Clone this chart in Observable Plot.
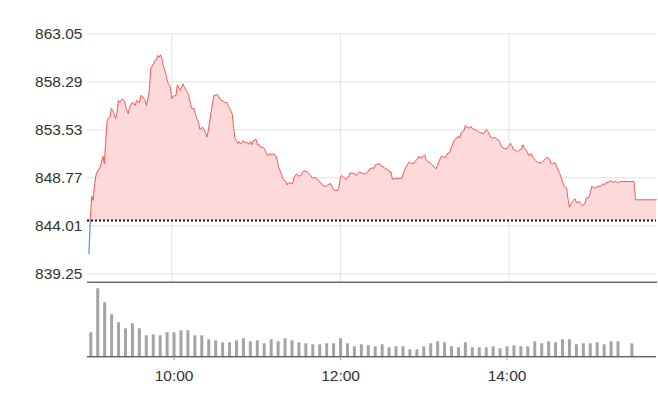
<!DOCTYPE html>
<html><head><meta charset="utf-8">
<script src="https://cdn.jsdelivr.net/npm/d3@7"></script>
<script src="https://cdn.jsdelivr.net/npm/@observablehq/plot@0.6"></script>
<style>
html,body{margin:0;padding:0;background:#fff;}
#chart{position:relative;width:658px;height:408px;font-family:"Liberation Sans",Arial,sans-serif;color:#333;}
#chart svg{display:block;}
</style></head><body><div id="chart"></div>
<script>
// ---- data ----
const sessionStart = "09:00";
const sessionEnd = "15:45";
const prevClose = 844.54;
const yTicks = [839.25, 844.01, 848.77, 853.53, 858.29, 863.05];
const timeTicks = ["10:00", "12:00", "14:00"];

// minutes after 09:00
const priceMinutes = [1,2,3,4,5,6,7,9,10,11,12,13,14,15,16,17,18,20,21,22,23,25,26,28,29,30,31,32,34,35,37,38,39,41,42,43,44,45,47,48,49,50,51,52,53,54,56,57,59,
60,61,63,64,66,68,69,71,72,74,76,77,79,80,82,84,85,86,88,90,92,93,95,96,98,99,101,103,104,105,107,108,109,111,112,113,115,116,117,118,
120,121,122,123,125,126,128,129,131,132,134,135,136,138,139,141,142,143,145,146,147,149,150,152,153,154,156,157,159,160,161,163,164,166,167,169,170,171,173,174,175,176,178,179,
180,181,183,184,186,187,189,190,191,193,194,196,198,199,201,202,204,205,207,208,209,211,212,214,215,216,217,218,219,221,222,224,225,226,227,229,230,232,233,235,236,237,239,
240,241,242,244,245,246,248,249,251,252,254,255,256,258,259,261,262,264,265,266,268,269,270,272,273,274,276,277,279,280,282,283,284,285,287,288,290,291,293,294,295,297,298,
300,301,302,303,305,306,308,309,310,311,313,314,316,317,319,320,321,323,324,326,327,329,330,331,333,334,336,337,339,340,341,342,343,344,346,347,348,350,351,352,354,355,357,358,359,
361,362,364,365,367,368,369,371,372,374,375,377,378,379,381,389,390,405];
const priceValues = [841.26,844.70,846.94,846.52,848.01,849.00,849.39,849.82,850.32,850.91,850.16,852.47,854.45,854.68,854.78,855.67,855.44,854.62,855.28,856.44,856.27,856.60,856.44,855.44,855.12,855.77,856.01,856.27,855.94,856.44,856.21,856.93,856.86,856.44,855.94,856.60,857.43,859.58,860.08,860.40,860.47,860.90,860.73,860.97,860.57,859.91,858.92,858.25,857.75,
856.60,856.86,856.93,857.99,857.43,858.09,857.75,857.26,857.00,855.67,855.61,854.95,854.28,853.56,853.79,853.23,852.80,853.46,855.28,856.93,857.00,856.93,856.44,856.44,856.21,856.27,855.70,855.12,853.79,852.70,852.14,852.37,852.10,852.47,852.24,852.30,852.10,852.37,852.04,852.47,
852.57,852.04,852.14,851.80,851.80,851.65,850.98,851.15,851.05,851.15,850.98,850.49,849.82,849.17,848.67,848.40,848.07,848.27,848.23,848.17,848.83,849.17,848.93,849.00,849.33,849.46,849.39,849.27,849.00,848.73,848.80,848.73,848.50,848.27,848.08,847.94,847.94,848.08,848.20,847.94,847.61,847.54,847.51,847.84,
848.83,849.00,848.73,848.60,848.93,849.27,849.17,849.23,849.00,849.27,849.33,849.17,849.17,849.27,849.66,849.74,849.72,850.06,850.16,850.16,849.92,849.82,849.66,849.59,849.33,849.39,848.60,848.67,848.73,848.67,848.73,848.73,849.27,849.66,849.92,850.32,850.26,850.16,850.39,850.66,850.91,850.71,850.91,
851.05,850.58,850.39,850.26,850.12,849.92,849.66,849.99,850.65,850.91,850.81,850.81,851.15,851.31,851.80,852.47,852.64,852.89,852.70,853.23,853.46,853.96,853.79,853.69,853.86,853.63,853.56,853.46,853.29,853.23,853.13,853.36,853.56,853.36,852.80,852.70,852.77,852.64,852.47,852.14,851.80,851.65,851.65,
851.91,852.20,851.97,851.58,851.48,851.31,851.58,851.58,852.04,851.65,851.38,850.98,851.15,850.81,850.48,850.32,850.26,850.26,850.39,850.65,850.81,850.58,850.16,850.16,850.26,849.82,849.27,848.83,848.01,847.84,847.74,846.69,845.85,846.19,846.52,846.69,846.29,846.42,846.19,846.02,846.19,846.75,846.85,847.34,847.94,
847.74,847.84,847.94,847.94,848.17,848.07,848.27,848.33,848.50,848.33,848.40,848.33,848.27,848.40,848.40,848.40,846.59,846.59];

// 5-minute volume bars starting 09:00 (null = no trade)
const volumeValues = [
  24,68,54,42,34,28,33,28,21,22,21,24,
  24,26,26,21,21,17,16,14,14,16,18,15,
  16,13,17,15,18,16,14,13,12,12,13,13,
  18,13,10,12,11,10,12,9,10,10,7,7,
  10,13,15,14,10,9,14,9,9,9,10,8,
  10,11,10,10,15,13,15,14,17,17,12,13,
  13,14,12,15,15,null,13
];

// ---- build ----
const parseHM = s => { const [h, m] = s.split(":").map(Number); return new Date(2024, 0, 2, h, m); };
const t0 = parseHM(sessionStart);
const tEnd = parseHM(sessionEnd);
const addMin = m => new Date(t0.getTime() + m * 60000);
const tickDates = timeTicks.map(parseHM);

const price = priceMinutes.map((m, i) => ({t: addMin(m), v: priceValues[i]}));
const isAbove = d => d && d.v >= prevClose;
const isBelow = d => d && d.v < prevClose;
const redData = price.map((d, i) => ({t: d.t,
  v: (isAbove(d) || isAbove(price[i - 1]) || isAbove(price[i + 1])) ? Math.max(d.v, prevClose) : NaN}));
const blueData = price.map((d, i) => ({t: d.t,
  v: (isBelow(d) || isBelow(price[i - 1]) || isBelow(price[i + 1])) ? Math.min(d.v, prevClose) : NaN}));
const vol = volumeValues.map((v, i) => ({t: addMin(i * 5), v})).filter(d => d.v != null);

const font = {fontFamily: "'Liberation Sans', Arial, sans-serif", color: "#333", background: "#fff"};

const pricePlot = Plot.plot({
  width: 658, height: 283,
  marginTop: 33.3, marginBottom: 1.3, marginLeft: 87, marginRight: 2,
  style: font,
  x: {type: "time", domain: [t0, tEnd], axis: null},
  y: {domain: [838.417, 863.05], label: null},
  marks: [
    Plot.gridY(yTicks, {stroke: "#e2e2e2", strokeOpacity: 1}),
    Plot.gridX(tickDates, {stroke: "#e2e2e2", strokeOpacity: 1}),
    Plot.areaY(price, {x: "t", y1: prevClose, y2: d => Math.max(d.v, prevClose), fill: "#fdd9da"}),
    Plot.lineY(redData, {x: "t", y: "v", stroke: "#f45b5b", strokeWidth: 1}),
    Plot.lineY(blueData, {x: "t", y: "v", stroke: "#5a8fe6", strokeWidth: 1.2}),
    Plot.ruleY([prevClose], {stroke: "#111", strokeWidth: 2, strokeDasharray: "2,2"}),
    Plot.axisY(yTicks, {tickSize: 0, tickPadding: 5, fontSize: 15.5, label: null, tickFormat: d => d.toFixed(2)}),
    Plot.frame({anchor: "bottom", stroke: "#222"})
  ]
});

const volumePlot = Plot.plot({
  width: 658, height: 125,
  marginTop: 0, marginBottom: 51.7, marginLeft: 87, marginRight: 2,
  style: font,
  x: {type: "time", domain: [t0, tEnd], range: [90.3, 652.2], label: null},
  y: {domain: [0, 73.3], axis: null},
  marks: [
    Plot.ruleX(vol, {x: "t", y: "v", stroke: "#a4a4a4", strokeWidth: 3}),
    Plot.ruleY([0], {stroke: "#222"}),
    Plot.axisX(tickDates, {tickSize: 4, tickPadding: 9, fontSize: 15.5, label: null, stroke: "#999", tickFormat: d3.timeFormat("%H:%M")})
  ]
});

const el = document.getElementById("chart");
el.appendChild(pricePlot);
el.appendChild(volumePlot);
</script>
</body></html>
